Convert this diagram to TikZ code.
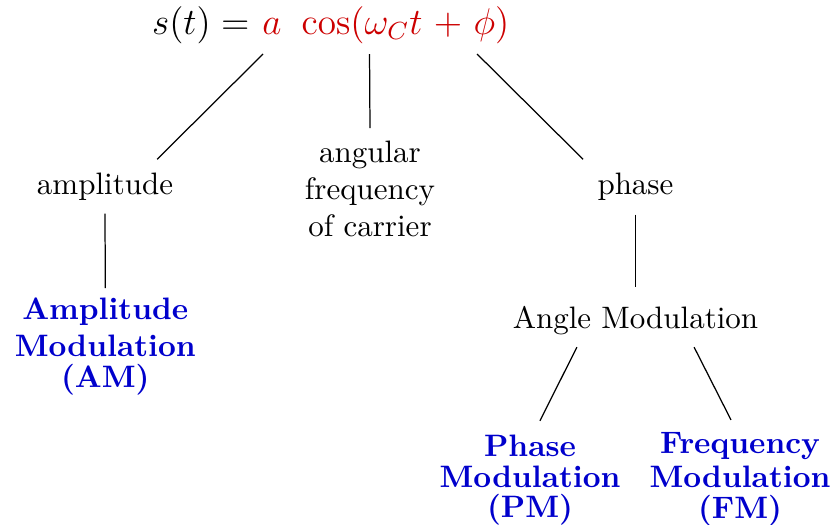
\documentclass[tikz,border=0pt]{standalone}
\usepackage{amsmath}
\definecolor{sigred}{RGB}{204,0,0}
\definecolor{modblue}{RGB}{0,0,204}

\begin{document}
\begin{tikzpicture}[every node/.style={inner sep=0pt}, lbl/.style={align=center}, mod/.style={align=center, text=modblue, font=\bfseries}]
  \useasboundingbox (0,0) rectangle (9.481,5.954);

  \node[anchor=base west] (lhs) at (1.718,5.568) {\large $s(t) =$};
  \node[anchor=base] (sa) at (3.085,5.568) {\large $\color{sigred}a$};
  \node[anchor=base west] (scos) at (3.414,5.568) {\large $\color{sigred}\cos(\omega_C t \mskip1.5mu + \mskip1.5mu \phi)$};

  \node[anchor=base] (amp) at (1.191,3.743) {amplitude};
  \node[lbl, anchor=north] (freq) at (4.196,4.364) {angular\\frequency\\of carrier};
  \node[anchor=base] (phase) at (7.207,3.743) {phase};

  \node[mod, anchor=north] (am) at (1.194,2.588) {Amplitude\\Modulation\\[-1.8pt](AM)};
  \node[anchor=base] (angle) at (7.207,2.234) {Angle Modulation};
  \node[mod, anchor=north] (pm) at (6.011,1.030) {Phase\\[-2pt]Modulation\\[-2.2pt](PM)};
  \node[mod, anchor=north] (fm) at (8.392,1.058) {Frequency\\[-1pt]Modulation\\[-2pt](FM)};

  \draw ([xshift=-2.9pt,yshift=-6.45pt]sa.base) -- ([xshift=16.8pt,yshift=4.35pt]amp.north);
  \draw ([xshift=22.1pt,yshift=-6.45pt]scos.base west) -- ([yshift=3.9pt]freq.north);
  \draw ([xshift=56.8pt,yshift=-6.45pt]scos.base west) -- ([xshift=-16.9pt,yshift=4.35pt]phase.north);
  \draw ([yshift=-3.9pt]amp.south) -- ([yshift=2.8pt]am.north);
  \draw ([yshift=-4.2pt]phase.south) -- ([yshift=6pt]angle.north);
  \draw ([xshift=-18.9pt,yshift=-3.9pt]angle.south) -- ([xshift=3.2pt,yshift=4.3pt]pm.north);
  \draw ([xshift=18.9pt,yshift=-3.9pt]angle.south) -- ([xshift=-2.9pt,yshift=3.8pt]fm.north);
\end{tikzpicture}
\end{document}
